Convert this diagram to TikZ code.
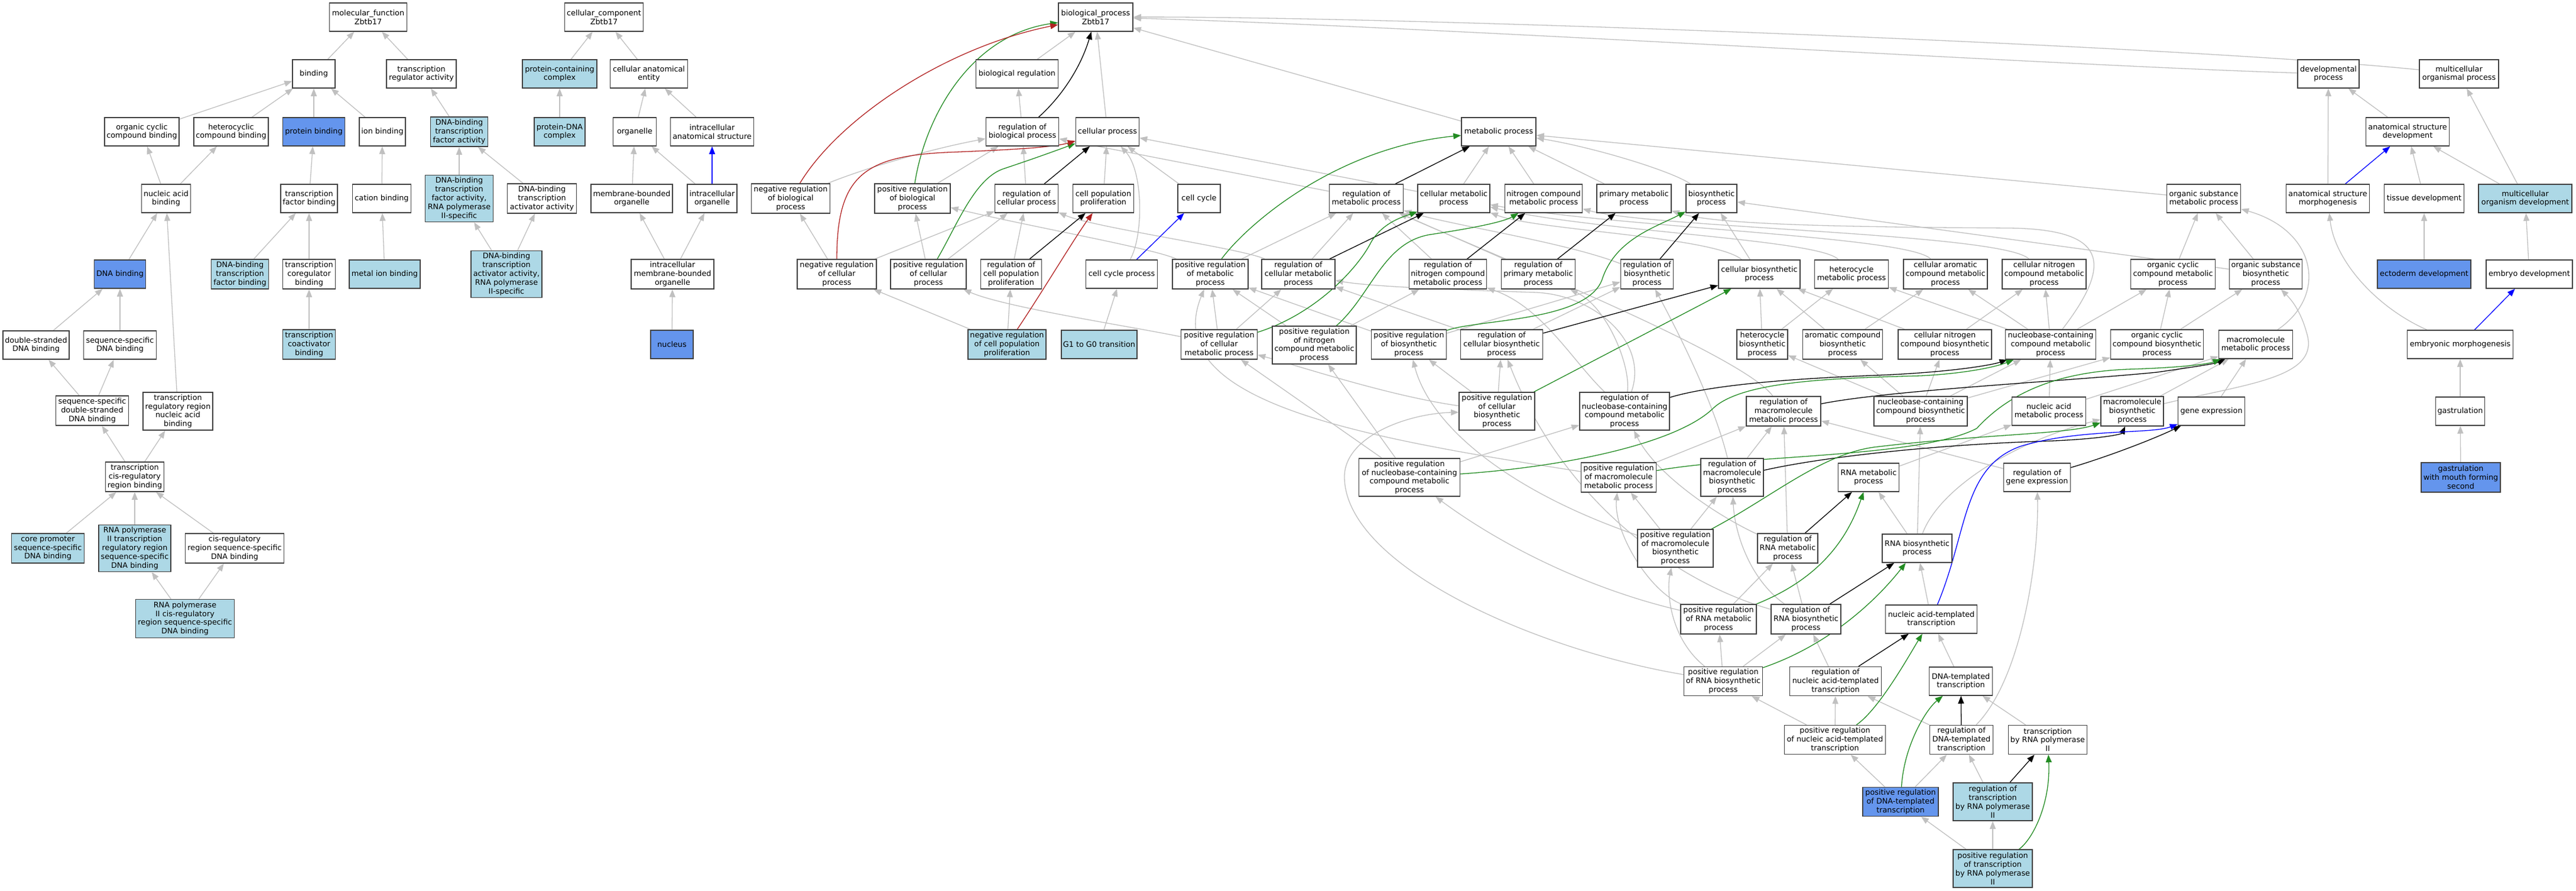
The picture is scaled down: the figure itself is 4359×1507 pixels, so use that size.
\documentclass[tikz,border=0pt]{standalone}
\usepackage{fontspec}
\setmainfont{DejaVu Sans}
\usetikzlibrary{arrows.meta}
\definecolor{cfblue}{HTML}{6495ED}
\definecolor{lblue}{HTML}{ADD8E6}
\definecolor{egray}{HTML}{C0C0C0}
\definecolor{fgreen}{HTML}{228B22}
\definecolor{fbred}{HTML}{B22222}
\definecolor{boxc}{HTML}{404040}
\newcommand\gofont{\fontsize{12.8pt}{14.8pt}\selectfont}
\pgfdeclarelayer{bg}
\pgfdeclarelayer{back}
\pgfsetlayers{back,bg,main}
\tikzset{
 gb/.style 2 args={rectangle, draw=boxc, line width=1.5pt, fill=white, inner sep=1pt, align=center, minimum width=#1pt, minimum height=#2pt, font=\gofont},
 bl/.style={fill=cfblue},
 lb/.style={fill=lblue},
 goedge/.style={line width=1.3pt, -{Triangle[length=13pt,width=10pt]}},
 isa/.style={goedge, color=egray},
 regc/.style={goedge, color=black},
 posc/.style={goedge, color=fgreen},
 negc/.style={goedge, color=fbred},
 partc/.style={goedge, color=blue}
}
\begin{document}
\begin{tikzpicture}[x=1pt,y=-1pt]
\begin{pgfonlayer}{back}
\fill[white] (0,0) rectangle (4359,1507);
\end{pgfonlayer}
\useasboundingbox (0,0) rectangle (4359,1507);
% ---------------- molecular function
\node[gb={131}{48}] (mf) at (623,29) {molecular\_function\\Zbtb17};
\node[gb={72}{48}] (binding) at (531,125) {binding};
\node[gb={118}{48}] (trra) at (713,125) {transcription\\regulator activity};
\node[gb={126}{48}] (ocb) at (240,223) {organic cyclic\\compound binding};
\node[gb={126}{48}] (hcb) at (391,223) {heterocyclic\\compound binding};
\node[gb={105}{48},bl] (pb) at (531,223) {protein binding};
\node[gb={78}{48}] (ionb) at (647,223) {ion binding};
\node[gb={97}{50},lb] (dtfa) at (777,223) {DNA-binding\\transcription\\factor activity};
\node[gb={83}{48}] (nab) at (281,336) {nucleic acid\\binding};
\node[gb={96}{48}] (tfb) at (523,336) {transcription\\factor binding};
\node[gb={99}{48}] (catb) at (646,336) {cation binding};
\node[gb={115}{79},lb] (dtfa2) at (777,336) {DNA-binding\\transcription\\factor activity,\\RNA polymerase\\II-specific};
\node[gb={117}{50}] (dtaa) at (917,336) {DNA-binding\\transcription\\activator activity};
\node[gb={87}{48},bl] (dnab) at (203,464) {DNA binding};
\node[gb={97}{50},lb] (dtfb) at (406,464) {DNA-binding\\transcription\\factor binding};
\node[gb={89}{50}] (tcb) at (523,464) {transcription\\coregulator\\binding};
\node[gb={120}{48},lb] (mib) at (651,464) {metal ion binding};
\node[gb={120}{79},lb] (dtaa2) at (857,464) {DNA-binding\\transcription\\activator activity,\\RNA polymerase\\II-specific};
\node[gb={89}{50},lb] (tcab) at (523,583) {transcription\\coactivator\\binding};
\node[gb={112}{48}] (dsdb) at (61,584) {double-stranded\\DNA binding};
\node[gb={123}{48}] (ssdb) at (203,584) {sequence-specific\\DNA binding};
\node[gb={123}{50}] (ssdsdb) at (156,695) {sequence-specific\\double-stranded\\DNA binding};
\node[gb={118}{64}] (trrnab) at (301,696) {transcription\\regulatory region\\nucleic acid\\binding};
\node[gb={99}{50}] (tcrrb) at (228,807) {transcription\\cis-regulatory\\region binding};
\node[gb={123}{50},lb] (cpsdb) at (81,928) {core promoter\\sequence-specific\\DNA binding};
\node[gb={122}{79},lb] (rp2trr) at (228,928) {RNA polymerase\\II transcription\\regulatory region\\sequence-specific\\DNA binding};
\node[gb={167}{50}] (crrssdb) at (397,928) {cis-regulatory\\region sequence-specific\\DNA binding};
\node[gb={167}{65},lb] (rp2crr) at (313,1047) {RNA polymerase\\II cis-regulatory\\region sequence-specific\\DNA binding};
% ---------------- cellular component
\node[gb={133}{48}] (ccomp) at (1022,29) {cellular\_component\\Zbtb17};
\node[gb={126}{48},lb] (pcc) at (947,125) {protein-containing\\complex};
\node[gb={131}{48}] (cae) at (1098,125) {cellular anatomical\\entity};
\node[gb={86}{48},lb] (pdc) at (947,223) {protein-DNA\\complex};
\node[gb={73}{48}] (org) at (1074,223) {organelle};
\node[gb={141}{48}] (ias) at (1205,223) {intracellular\\anatomical structure};
\node[gb={138}{48}] (mbo) at (1069,336) {membrane-bounded\\organelle};
\node[gb={84}{48}] (io) at (1205,336) {intracellular\\organelle};
\node[gb={140}{50}] (imbo) at (1138,464) {intracellular\\membrane-bounded\\organelle};
\node[gb={72}{48},bl] (nucleus) at (1137,583) {nucleus};
% ---------------- biological process
\node[gb={126}{48}] (bp) at (1854,29) {biological\_process\\Zbtb17};
\node[gb={139}{48}] (breg) at (1721,125) {biological regulation};
\node[gb={123}{48}] (rbp) at (1730,223) {regulation of\\biological process};
\node[gb={107}{48}] (cp) at (1874,223) {cellular process};
\node[gb={133}{50}] (nrbp) at (1338,336) {negative regulation\\of biological\\process};
\node[gb={128}{50}] (prbp) at (1544,336) {positive regulation\\of biological\\process};
\node[gb={107}{48}] (rcp) at (1737,336) {regulation of\\cellular process};
\node[gb={103}{48}] (cpp) at (1867,336) {cell population\\proliferation};
\node[gb={72}{48}] (cc2) at (2029,336) {cell cycle};
\node[gb={134}{50}] (nrcp) at (1416,464) {negative regulation\\of cellular\\process};
\node[gb={128}{50}] (prcp) at (1571,464) {positive regulation\\of cellular\\process};
\node[gb={103}{50}] (rcpp) at (1711,464) {regulation of\\cell population\\proliferation};
\node[gb={121}{48}] (ccp) at (1898,464) {cell cycle process};
\node[gb={128}{50}] (prmp) at (2048,464) {positive regulation\\of metabolic\\process};
\node[gb={124}{50}] (rcmp) at (2197,464) {regulation of\\cellular metabolic\\process};
\node[gb={132}{50},lb] (nrcpp) at (1704,583) {negative regulation\\of cell population\\proliferation};
\node[gb={128}{48},lb] (g1g0) at (1860,583) {G1 to G0 transition};
\node[gb={129}{50}] (prcmp) at (2063,583) {positive regulation\\of cellular\\metabolic process};
\node[gb={142}{64}] (prncmp) at (2224,584) {positive regulation\\of nitrogen\\compound metabolic\\process};
\node[gb={126}{48}] (mp) at (2536,223) {metabolic process};
\node[gb={125}{48}] (rmp) at (2312,336) {regulation of\\metabolic process};
\node[gb={122}{48}] (cmp) at (2460,336) {cellular metabolic\\process};
\node[gb={131}{48}] (ncmp) at (2612,336) {nitrogen compound\\metabolic process};
\node[gb={126}{48}] (pmp) at (2765,336) {primary metabolic\\process};
\node[gb={86}{48}] (bsp) at (2896,336) {biosynthetic\\process};
\node[gb={131}{50}] (rncmp) at (2450,464) {regulation of\\nitrogen compound\\metabolic process};
\node[gb={125}{50}] (rpmp) at (2603,464) {regulation of\\primary metabolic\\process};
\node[gb={89}{50}] (rbsp) at (2787,464) {regulation of\\biosynthetic\\process};
\node[gb={138}{48}] (cbsp) at (2977,464) {cellular biosynthetic\\process};
\node[gb={125}{48}] (hmp) at (3133,464) {heterocycle\\metabolic process};
\node[gb={142}{50}] (cacmp) at (3292,464) {cellular aromatic\\compound metabolic\\process};
\node[gb={142}{50}] (cncmp) at (3459,464) {cellular nitrogen\\compound metabolic\\process};
\node[gb={143}{50}] (occmp) at (3677,464) {organic cyclic\\compound metabolic\\process};
\node[gb={125}{48}] (osmp) at (3729,336) {organic substance\\metabolic process};
\node[gb={127}{50}] (prbsp) at (2384,583) {positive regulation\\of biosynthetic\\process};
\node[gb={139}{50}] (rcbsp) at (2541,583) {regulation of\\cellular biosynthetic\\process};
\node[gb={86}{50}] (hbsp) at (2982,583) {heterocycle\\biosynthetic\\process};
\node[gb={135}{50}] (acbsp) at (3118,583) {aromatic compound\\biosynthetic\\process};
\node[gb={158}{50}] (cncbsp) at (3291,583) {cellular nitrogen\\compound biosynthetic\\process};
\node[gb={153}{50}] (nccmp) at (3470,583) {nucleobase-containing\\compound metabolic\\process};
\node[gb={157}{50}] (occbsp) at (3650,583) {organic cyclic\\compound biosynthetic\\process};
\node[gb={123}{50}] (osbsp) at (3834,464) {organic substance\\biosynthetic\\process};
\node[gb={125}{48}] (mmp) at (3817,583) {macromolecule\\metabolic process};
\node[gb={128}{64}] (prcbsp) at (2533,696) {positive regulation\\of cellular\\biosynthetic\\process};
\node[gb={152}{64}] (rnccmp) at (2749,696) {regulation of\\nucleobase-containing\\compound metabolic\\process};
\node[gb={126}{50}] (rmmp) at (3018,696) {regulation of\\macromolecule\\metabolic process};
\node[gb={158}{50}] (nccbsp) at (3250,696) {nucleobase-containing\\compound biosynthetic\\process};
\node[gb={125}{48}] (namp) at (3467,696) {nucleic acid\\metabolic process};
\node[gb={106}{50}] (mbsp) at (3608,696) {macromolecule\\biosynthetic\\process};
\node[gb={113}{48}] (ge) at (3742,696) {gene expression};
\node[gb={171}{64}] (prnccmp) at (2385,808) {positive regulation\\of nucleobase-containing\\compound metabolic\\process};
\node[gb={127}{50}] (prmmp) at (2739,808) {positive regulation\\of macromolecule\\metabolic process};
\node[gb={106}{64}] (rmbsp) at (2931,808) {regulation of\\macromolecule\\biosynthetic\\process};
\node[gb={103}{48}] (rnamp) at (3162,808) {RNA metabolic\\process};
\node[gb={113}{48}] (rge) at (3447,808) {regulation of\\gene expression};
\node[gb={128}{64}] (prmbsp) at (2835,928) {positive regulation\\of macromolecule\\biosynthetic\\process};
\node[gb={102}{50}] (rrnamp) at (3025,928) {regulation of\\RNA metabolic\\process};
\node[gb={118}{48}] (rnabsp) at (3244,928) {RNA biosynthetic\\process};
\node[gb={128}{50}] (prrnamp) at (2908,1048) {positive regulation\\of RNA metabolic\\process};
\node[gb={118}{50}] (rrnabsp) at (3056,1048) {regulation of\\RNA biosynthetic\\process};
\node[gb={155}{48}] (natt) at (3268,1048) {nucleic acid-templated\\transcription};
\node[gb={133}{49}] (prrnabsp) at (2916,1153) {positive regulation\\of RNA biosynthetic\\process};
\node[gb={155}{49}] (rnatt) at (3106,1153) {regulation of\\nucleic acid-templated\\transcription};
\node[gb={107}{48}] (dtt) at (3318,1153) {DNA-templated\\transcription};
\node[gb={171}{49}] (prnatt) at (3105,1252) {positive regulation\\of nucleic acid-templated\\transcription};
\node[gb={107}{49}] (rdtt) at (3319,1252) {regulation of\\DNA-templated\\transcription};
\node[gb={133}{49}] (trp2) at (3465,1252) {transcription\\by RNA polymerase\\II};
\node[gb={128}{49},bl] (prdtt) at (3216,1357) {positive regulation\\of DNA-templated\\transcription};
\node[gb={134}{64},lb] (rtrp2) at (3372,1357) {regulation of\\transcription\\by RNA polymerase\\II};
\node[gb={134}{64},lb] (prtrp2) at (3372,1470) {positive regulation\\of transcription\\by RNA polymerase\\II};
\node[gb={104}{48}] (devp) at (3940,125) {developmental\\process};
\node[gb={134}{48}] (mop) at (4161,125) {multicellular\\organismal process};
\node[gb={141}{48}] (asd) at (4074,223) {anatomical structure\\development};
\node[gb={141}{48}] (asm) at (3939,336) {anatomical structure\\morphogenesis};
\node[gb={135}{48}] (td) at (4102,336) {tissue development};
\node[gb={158}{48},lb] (mod) at (4273,336) {multicellular\\organism development};
\node[gb={158}{48},bl] (ed) at (4102,464) {ectoderm development};
\node[gb={146}{48}] (embd) at (4280,464) {embryo development};
\node[gb={179}{48}] (embm) at (4163,583) {embryonic morphogenesis};
\node[gb={83}{48}] (gast) at (4163,696) {gastrulation};
\node[gb={134}{50},bl] (gmfs) at (4164,808) {gastrulation\\with mouth forming\\second};

\begin{pgfonlayer}{bg}
% ---- MF
\foreach \a/\b in {binding/mf, trra/mf, ocb/binding, hcb/binding, pb/binding, ionb/binding,
  dtfa/trra, nab/ocb, nab/hcb, tfb/pb, catb/ionb, dtfa2/dtfa, dtaa/dtfa, dnab/nab, trrnab/nab,
  dtfb/tfb, tcb/tfb, mib/catb, dtaa2/dtfa2, dtaa2/dtaa, tcab/tcb, dsdb/dnab, ssdb/dnab,
  ssdsdb/dsdb, ssdsdb/ssdb, tcrrb/ssdsdb, tcrrb/trrnab, cpsdb/tcrrb, rp2trr/tcrrb, crrssdb/tcrrb,
  rp2crr/rp2trr, rp2crr/crrssdb}
  \draw[isa] (\a) -- (\b);
% ---- CC
\foreach \a/\b in {pcc/ccomp, cae/ccomp, pdc/pcc, org/cae, ias/cae, mbo/org, io/org, imbo/mbo, imbo/io, nucleus/imbo}
  \draw[isa] (\a) -- (\b);
\draw[partc] (io) -- (ias);
% ---- BP straight is_a
\foreach \a/\b in {breg/bp, rbp/breg, cp/bp, mp/bp, prbp/rbp, rcp/rbp, cpp/cp, cc2/cp, cmp/cp,
  nrcp/nrbp, nrcp/rcp, prcp/prbp, prcp/rcp, rcpp/rcp, nrcpp/rcpp, nrcpp/nrcp, g1g0/ccp,
  prmp/rmp, rmp/rbp, rcmp/rmp, prcmp/prmp, prcmp/rcmp, prncmp/prmp, prncmp/rncmp,
  cmp/mp, ncmp/mp, pmp/mp, osmp/mp, rncmp/rmp, rpmp/rmp, cbsp/bsp, occmp/osmp, osbsp/osmp, osbsp/bsp,
  prbsp/rbsp, prbsp/prmp, rcbsp/rbsp, rcbsp/rcmp, hbsp/hmp, hbsp/cbsp, acbsp/cbsp, acbsp/cacmp,
  cncbsp/cbsp, cncbsp/cncmp, nccmp/hmp, nccmp/cacmp, nccmp/cncmp, nccmp/occmp, occbsp/occmp, occbsp/osbsp,
  prcbsp/prbsp, prcbsp/rcbsp, nccbsp/nccmp, nccbsp/hbsp, nccbsp/acbsp, nccbsp/cncbsp, nccbsp/occbsp,
  namp/nccmp, namp/mmp, mbsp/mmp, ge/mmp, prnccmp/rnccmp, prnccmp/prcmp, prnccmp/prncmp,
  prmmp/rmmp, rmbsp/rmmp, rnamp/namp, rge/rmmp, prmbsp/prmmp, prmbsp/rmbsp, rrnamp/rmmp,
  rnabsp/rnamp, rnabsp/nccbsp, prrnamp/rrnamp, rrnabsp/rrnamp, natt/rnabsp, prrnabsp/prrnamp,
  prrnabsp/rrnabsp, rnatt/rrnabsp, dtt/natt, prnatt/rnatt, prnatt/prrnabsp, rdtt/rnatt, trp2/dtt,
  prdtt/prnatt, prdtt/rdtt, rtrp2/rdtt, prtrp2/prdtt, prtrp2/rtrp2,
  asd/devp, asm/devp, td/asd, mod/asd, mod/mop, ed/td, embd/mod, gast/embm, gmfs/gast}
  \draw[isa] (\a) -- (\b);
% ---- BP curved is_a
\draw[isa] (devp) .. controls (3500,112) and (2400,44) .. (bp);
\draw[isa] (mop) .. controls (3700,78) and (2400,28) .. (bp);
\draw[isa] (nrbp) .. controls (1450,290) and (1560,255) .. (rbp);
\draw[isa] (ccp) .. controls (1935,400) and (1935,290) .. (cp);
\draw[isa] (prmp) .. controls (1950,420) and (1750,385) .. (prbp);
\draw[isa] (rcmp) .. controls (2100,420) and (1850,385) .. (rcp);
\draw[isa] (prcmp) .. controls (1900,550) and (1700,520) .. (prcp);
\draw[isa] (bsp) .. controls (2830,290) and (2700,250) .. (mp);
\draw[isa] (rbsp) .. controls (2650,410) and (2450,380) .. (rmp);
\draw[isa] (cbsp) .. controls (2900,400) and (2600,390) .. (cmp);
\draw[isa] (hmp) .. controls (3080,405) and (2700,392) .. (cmp);
\draw[isa] (cacmp) .. controls (3230,400) and (2750,386) .. (cmp);
\draw[isa] (cncmp) .. controls (3390,395) and (2800,386) .. (ncmp);
\draw[isa] (nccmp) .. controls (3580,440) and (3560,388) .. (3400,386) .. controls (3100,384) and (2900,380) .. (pmp);
\draw[isa] (mmp) .. controls (3940,500) and (3920,390) .. (osmp);
\draw[isa] (mbsp) .. controls (3800,650) and (3920,640) .. (3905,570) .. controls (3895,530) and (3880,510) .. (osbsp);
\draw[isa] (prcbsp) .. controls (2350,670) and (2200,620) .. (prcmp);
\draw[isa] (rnccmp) .. controls (2790,580) and (2700,500) .. (2600,495) .. controls (2450,490) and (2320,485) .. (rcmp);
\draw[isa] (rnccmp) .. controls (2660,610) and (2610,520) .. (rncmp);
\draw[isa] (rnccmp) .. controls (2760,620) and (2720,520) .. (rpmp);
\draw[isa] (rmmp) .. controls (2950,600) and (2500,420) .. (rmp);
\draw[isa] (prmmp) .. controls (2300,740) and (1960,680) .. (prmp);
\draw[isa] (rmbsp) .. controls (2905,700) and (2860,600) .. (rbsp);
\draw[isa] (prmbsp) .. controls (2550,830) and (2420,720) .. (prbsp);
\draw[isa] (rrnamp) .. controls (2900,870) and (2800,800) .. (rnccmp);
\draw[isa] (rnabsp) .. controls (3280,830) and (3400,750) .. (mbsp);
\draw[isa] (prrnamp) .. controls (2700,1000) and (2550,930) .. (prnccmp);
\draw[isa] (prrnamp) .. controls (2790,1000) and (2730,900) .. (prmmp);
\draw[isa] (rrnabsp) .. controls (2960,980) and (2935,900) .. (rmbsp);
\draw[isa] (rrnabsp) .. controls (2850,990) and (2650,860) .. (rcbsp);
\draw[isa] (prrnabsp) .. controls (2825,1080) and (2820,1000) .. (prmbsp);
\draw[isa] (prrnabsp) .. controls (2600,1100) and (2280,960) .. (2275,810) .. controls (2272,740) and (2380,700) .. (prcbsp);
\draw[isa] (rdtt) .. controls (3420,1150) and (3450,950) .. (rge);
\draw[isa] (embm) .. controls (4020,520) and (3950,440) .. (asm);
% ---- regulates (black)
\draw[regc] (rbp) .. controls (1800,160) and (1830,110) .. (bp);
\draw[regc] (rcp) -- (cp);
\draw[regc] (rcpp) -- (cpp);
\draw[regc] (rmp) -- (mp);
\draw[regc] (rcmp) -- (cmp);
\draw[regc] (rncmp) -- (ncmp);
\draw[regc] (rpmp) -- (pmp);
\draw[regc] (rbsp) -- (bsp);
\draw[regc] (rcbsp) -- (cbsp);
\draw[regc] (rnccmp) .. controls (2900,650) and (3050,640) .. (3180,635) .. controls (3300,630) and (3370,618) .. (nccmp);
\draw[regc] (rmmp) .. controls (3200,660) and (3500,645) .. (3650,630) .. controls (3720,620) and (3750,615) .. (mmp);
\draw[regc] (rmbsp) .. controls (3100,770) and (3300,752) .. (3450,747) .. controls (3550,744) and (3590,735) .. (mbsp);
\draw[regc] (rge) .. controls (3560,775) and (3640,745) .. (ge);
\draw[regc] (rrnamp) -- (rnamp);
\draw[regc] (rrnabsp) -- (rnabsp);
\draw[regc] (rnatt) -- (natt);
\draw[regc] (rdtt) -- (dtt);
\draw[regc] (rtrp2) -- (trp2);
% ---- positively regulates (green)
\draw[posc] (prbp) .. controls (1565,200) and (1640,60) .. (bp);
\draw[posc] (prcp) .. controls (1620,380) and (1650,300) .. (1700,285) .. controls (1760,265) and (1800,250) .. (cp);
\draw[posc] (prmp) .. controls (2110,380) and (2260,250) .. (mp);
\draw[posc] (prcmp) .. controls (2230,530) and (2300,450) .. (2320,410) .. controls (2340,375) and (2380,365) .. (cmp);
\draw[posc] (prncmp) .. controls (2320,500) and (2340,410) .. (2420,397) .. controls (2500,385) and (2545,375) .. (ncmp);
\draw[posc] (prbsp) .. controls (2500,540) and (2690,545) .. (2712,470) .. controls (2735,405) and (2800,385) .. (bsp);
\draw[posc] (prcbsp) -- (cbsp);
\draw[posc] (prnccmp) .. controls (2650,790) and (2840,750) .. (2900,690) .. controls (2950,645) and (3100,640) .. (3250,636) .. controls (3330,632) and (3380,620) .. (nccmp);
\draw[posc] (prmmp) .. controls (2950,770) and (3250,775) .. (3345,725) .. controls (3400,665) and (3480,630) .. (3600,625) .. controls (3700,622) and (3740,615) .. (mmp);
\draw[posc] (prmbsp) .. controls (3000,840) and (3080,770) .. (3170,757) .. controls (3350,735) and (3500,735) .. (mbsp);
\draw[posc] (prrnamp) .. controls (3090,975) and (3130,900) .. (rnamp);
\draw[posc] (prrnabsp) .. controls (3100,1090) and (3180,1010) .. (rnabsp);
\draw[posc] (prnatt) .. controls (3180,1200) and (3230,1110) .. (natt);
\draw[posc] (prdtt) .. controls (3222,1260) and (3260,1200) .. (dtt);
\draw[posc] (prtrp2) .. controls (3440,1420) and (3470,1360) .. (trp2);
% ---- negatively regulates (red)
\draw[negc] (nrbp) .. controls (1420,200) and (1600,80) .. (bp);
\draw[negc] (nrcp) .. controls (1416,300) and (1460,265) .. (1600,258) .. controls (1700,254) and (1780,250) .. (cp);
\draw[negc] (nrcpp) .. controls (1760,500) and (1820,400) .. (cpp);
% ---- part of (blue)
\draw[partc] (ccp) -- (cc2);
\draw[partc] (natt) .. controls (3330,900) and (3320,790) .. (3420,755) .. controls (3520,725) and (3640,735) .. (ge);
\draw[partc] (asm) -- (asd);
\draw[partc] (embm) -- (embd);
\end{pgfonlayer}
\end{tikzpicture}
\end{document}
